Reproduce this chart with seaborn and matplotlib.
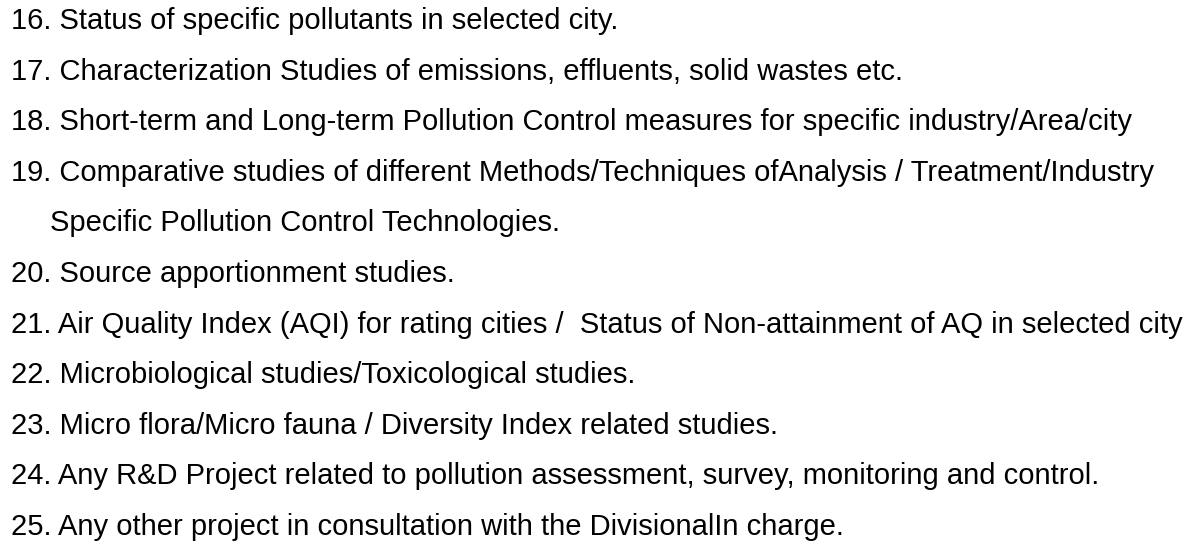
import matplotlib
matplotlib.use("Agg")
import matplotlib.pyplot as plt
import seaborn as sns

# list items as shown (number, text lines)
numbers = ["16.", "17.", "18.", "19.", "20.", "21.", "22.", "23.", "24.", "25."]
items = [
    ["Status of specific pollutants in selected city."],
    ["Characterization Studies of emissions, effluents, solid wastes etc."],
    ["Short-term and Long-term Pollution Control measures for specific industry/Area/city"],
    ["Comparative studies of different Methods/Techniques ofAnalysis / Treatment/Industry",
     "Specific Pollution Control Technologies."],
    ["Source apportionment studies."],
    ["Air Quality Index (AQI) for rating cities /  Status of Non-attainment of AQ in selected city"],
    ["Microbiological studies/Toxicological studies."],
    ["Micro flora/Micro fauna / Diversity Index related studies."],
    ["Any R&D Project related to pollution assessment, survey, monitoring and control."],
    ["Any other project in consultation with the DivisionalIn charge."],
]

sns.set_theme(style="white")
plt.rcParams["font.family"] = ["Liberation Sans", "DejaVu Sans"]

fig = plt.figure(figsize=(11.99, 5.43), dpi=100)
ax = fig.add_axes([0, 0, 1, 1])
ax.set_xlim(0, 1199)
ax.set_ylim(543, 0)
ax.axis("off")

row = 0
for num, lines in zip(numbers, items):
    for i, line in enumerate(lines):
        y = 29 + row * 50.6
        if i == 0:
            ax.text(11, y, num + " " + line, fontsize=21, color="black", va="baseline", ha="left")
        else:
            ax.text(50, y, line, fontsize=21, color="black", va="baseline", ha="left")
        row += 1

fig.savefig("out.png", dpi=100)
